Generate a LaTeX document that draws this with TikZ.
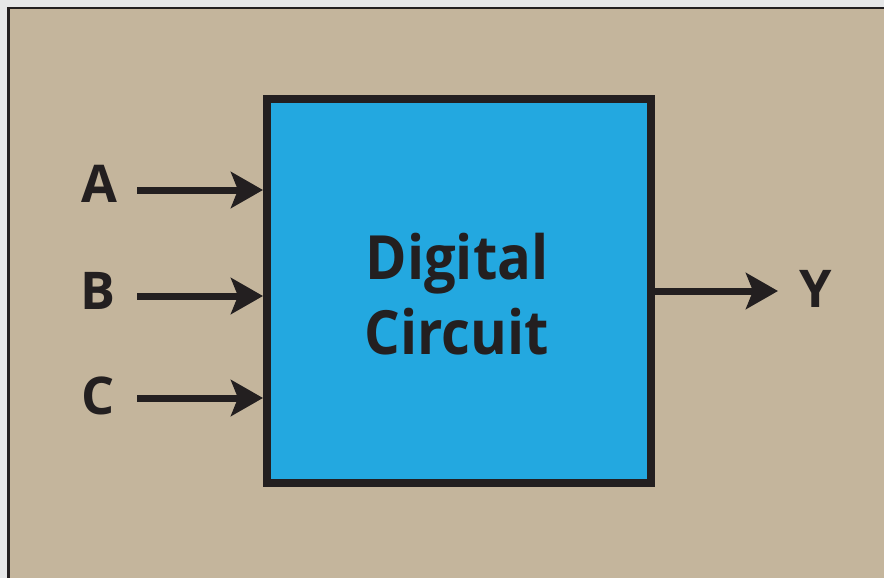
\documentclass[tikz,border=0pt]{standalone}
\usepackage{fontspec}
\setmainfont{Open Sans}
\newfontfamily\narrowf[FakeStretch=0.92]{Open Sans}
\usetikzlibrary{arrows.meta}
\definecolor{tan}{HTML}{C4B59C}
\definecolor{boxblue}{HTML}{23A8E0}
\definecolor{ink}{HTML}{231F20}
\definecolor{margin}{HTML}{E6E7E8}
\tikzset{
  conn/.style={draw=ink, line width=7pt, -{Stealth[length=32pt,width=36pt,inset=7pt]}},
  lbl/.style={font=\fontsize{52}{52}\selectfont\bfseries, text=ink, inner sep=0pt},
  main/.style={font=\narrowf\fontsize{61}{61}\selectfont\bfseries, text=ink, inner sep=0pt}
}
\begin{document}
\begin{tikzpicture}[x=1pt,y=-1pt]
\useasboundingbox (0,0) rectangle (884,578);
\fill[margin] (0,0) rectangle (884,578);
\begin{scope}
\clip (0,0) rectangle (884,578);
\draw[ink, line width=2.5pt, fill=tan] (8.25,8.25) rectangle (900,600);
\end{scope}
\node[draw=ink, line width=8pt, fill=boxblue, minimum width=384pt, minimum height=384pt, inner sep=0pt, outer sep=0pt, anchor=north west] (dc) at (267,99) {};
\node[main, anchor=base] (t1) at (457,279) {Digital};
\node[main, anchor=base] (t2) at (457,354) {Circuit};
\node[lbl] (a) at (99,184) {A};
\node[lbl] (b) at (98,291) {B};
\node[lbl] (c) at (98,396) {C};
\node[lbl] (y) at (816,289) {Y};
\coordinate (as) at (137,190);
\coordinate (bs) at (137,296);
\coordinate (cs) at (137,398);
\coordinate (ae) at (263,190);
\coordinate (be) at (263,296);
\coordinate (ce) at (263,398);
\coordinate (ys) at (655,291);
\coordinate (ye) at (778,291);
\draw[conn] (as) -- (ae);
\draw[conn] (bs) -- (be);
\draw[conn] (cs) -- (ce);
\draw[conn] (ys) -- (ye);
\end{tikzpicture}
\end{document}
